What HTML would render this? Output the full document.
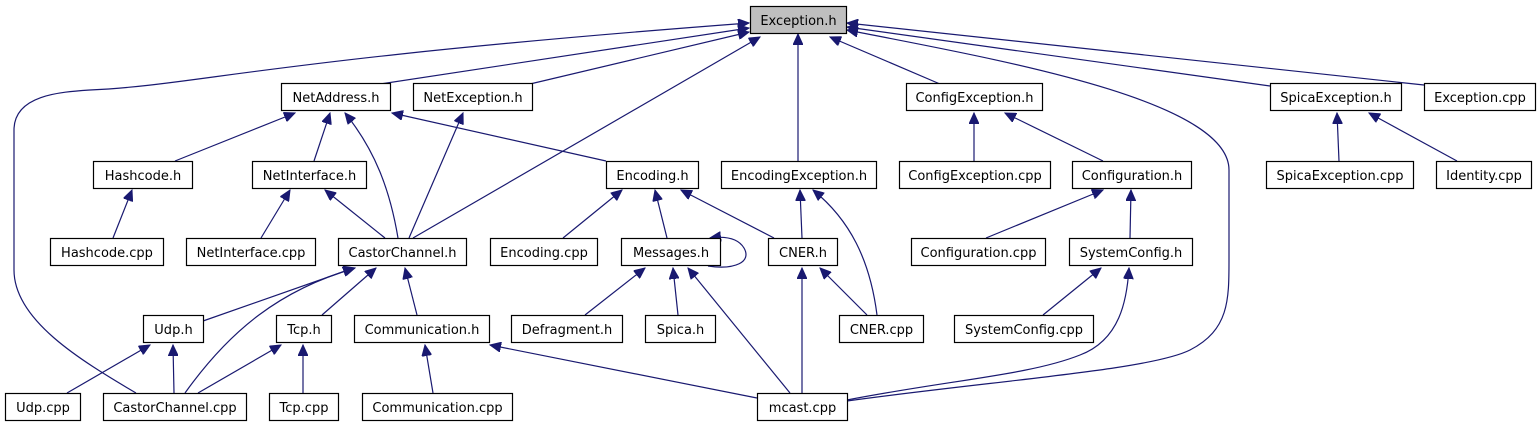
<!DOCTYPE html>
<html><head><meta charset="utf-8"><style>
html,body{margin:0;padding:0;background:#fff;}
svg{display:block;}
text{font-family:"DejaVu Sans","Liberation Sans",sans-serif;font-size:13px;fill:#000;}
rect{fill:#fff;stroke:#000;stroke-width:1.2;}
path{fill:none;stroke:#191970;stroke-width:1.2;}
</style></head><body>
<svg width="1540" height="427" viewBox="0 0 1540 427" xmlns="http://www.w3.org/2000/svg">
<defs>
<marker id="a" markerUnits="userSpaceOnUse" markerWidth="12" markerHeight="10" refX="11" refY="5" orient="auto">
<path d="M0,0 L11,5 L0,10 Z" style="fill:#191970;stroke:#191970;stroke-width:1"/>
</marker>
</defs>
<g marker-end="url(#a)">
<path d="M136,393 C80,360 14,320 14,270 L14,130 C14,95 60,92 90,90 C200,85 260,60 749,23"/>
<path d="M380,84 L749,28"/>
<path d="M530,84 L749,32"/>
<path d="M413,238 L760,37"/>
<path d="M798,161 L798,34"/>
<path d="M940,84 L830,37"/>
<path d="M847,401 C1000,380 1150,370 1190,350 C1229,330 1229,300 1229,260 L1229,170 C1229,100 1000,60 847,30"/>
<path d="M1270,86 L847,27"/>
<path d="M1424,85 L847,23"/>
<path d="M175,161 L295,113"/>
<path d="M314,161 L330,113"/>
<path d="M398,238 C390,190 375,150 345,113"/>
<path d="M606,161 L392,113"/>
<path d="M409,238 L463,113"/>
<path d="M113,238 L132,190"/>
<path d="M261,238 L290,190"/>
<path d="M385,238 L325,190"/>
<path d="M563,238 L622,190"/>
<path d="M667,238 L655,190"/>
<path d="M774,238 L681,190"/>
<path d="M802,238 L800,190"/>
<path d="M877,315 C870,260 850,220 813,190"/>
<path d="M974,161 L974,113"/>
<path d="M1103,161 L1005,113"/>
<path d="M986,238 L1103,190"/>
<path d="M1130,238 L1131,190"/>
<path d="M1339,161 L1337,113"/>
<path d="M1457,161 L1369,113"/>
<path d="M203,321 L354,268"/>
<path d="M185,393 C230,330 280,290 355,268"/>
<path d="M322,315 L376,268"/>
<path d="M417,315 L405,268"/>
<path d="M708,266 C735,270 752,262 744,248 C738,238 725,236 710,238"/>
<path d="M585,315 L645,268"/>
<path d="M678,315 L673,268"/>
<path d="M790,393 L688,268"/>
<path d="M802,393 L802,268"/>
<path d="M867,315 L820,268"/>
<path d="M1043,315 L1101,268"/>
<path d="M847,400 C950,380 1030,375 1080,355 C1120,340 1127,300 1129,268"/>
<path d="M67,393 L150,345"/>
<path d="M174,393 L173,345"/>
<path d="M198,393 L281,345"/>
<path d="M303,393 L303,345"/>
<path d="M433,393 L425,345"/>
<path d="M757,398 L490,345"/>
</g>
<g>
<rect x="750.5" y="6.5" width="96" height="27" style="fill:#bfbfbf"/><text x="798.5" y="25" text-anchor="middle">Exception.h</text>
<rect x="281.5" y="83.5" width="109" height="27"/><text x="336" y="102" text-anchor="middle">NetAddress.h</text>
<rect x="413.5" y="83.5" width="119" height="27"/><text x="473" y="102" text-anchor="middle">NetException.h</text>
<rect x="906.5" y="83.5" width="136" height="27"/><text x="974.5" y="102" text-anchor="middle">ConfigException.h</text>
<rect x="1270.5" y="83.5" width="131" height="27"/><text x="1336" y="102" text-anchor="middle">SpicaException.h</text>
<rect x="1424.5" y="83.5" width="111" height="27"/><text x="1480" y="102" text-anchor="middle">Exception.cpp</text>
<rect x="93.5" y="161.5" width="99" height="27"/><text x="143" y="180" text-anchor="middle">Hashcode.h</text>
<rect x="252.5" y="161.5" width="114" height="27"/><text x="309.5" y="180" text-anchor="middle">NetInterface.h</text>
<rect x="606.5" y="161.5" width="92" height="27"/><text x="652.5" y="180" text-anchor="middle">Encoding.h</text>
<rect x="721.5" y="161.5" width="155" height="27"/><text x="799" y="180" text-anchor="middle">EncodingException.h</text>
<rect x="899.5" y="161.5" width="151" height="27"/><text x="975" y="180" text-anchor="middle">ConfigException.cpp</text>
<rect x="1072.5" y="161.5" width="119" height="27"/><text x="1132" y="180" text-anchor="middle">Configuration.h</text>
<rect x="1266.5" y="161.5" width="147" height="27"/><text x="1340" y="180" text-anchor="middle">SpicaException.cpp</text>
<rect x="1436.5" y="161.5" width="95" height="27"/><text x="1484" y="180" text-anchor="middle">Identity.cpp</text>
<rect x="50.5" y="238.5" width="113" height="27"/><text x="107" y="257" text-anchor="middle">Hashcode.cpp</text>
<rect x="186.5" y="238.5" width="129" height="27"/><text x="251" y="257" text-anchor="middle">NetInterface.cpp</text>
<rect x="338.5" y="238.5" width="128" height="27"/><text x="402.5" y="257" text-anchor="middle">CastorChannel.h</text>
<rect x="490.5" y="238.5" width="107" height="27"/><text x="544" y="257" text-anchor="middle">Encoding.cpp</text>
<rect x="621.5" y="238.5" width="99" height="27"/><text x="671" y="257" text-anchor="middle">Messages.h</text>
<rect x="768.5" y="238.5" width="69" height="27"/><text x="803" y="257" text-anchor="middle">CNER.h</text>
<rect x="911.5" y="238.5" width="134" height="27"/><text x="978.5" y="257" text-anchor="middle">Configuration.cpp</text>
<rect x="1069.5" y="238.5" width="123" height="27"/><text x="1131" y="257" text-anchor="middle">SystemConfig.h</text>
<rect x="143.5" y="315.5" width="60" height="27"/><text x="173.5" y="334" text-anchor="middle">Udp.h</text>
<rect x="276.5" y="315.5" width="55" height="27"/><text x="304" y="334" text-anchor="middle">Tcp.h</text>
<rect x="354.5" y="315.5" width="135" height="27"/><text x="422" y="334" text-anchor="middle">Communication.h</text>
<rect x="511.5" y="315.5" width="111" height="27"/><text x="567" y="334" text-anchor="middle">Defragment.h</text>
<rect x="645.5" y="315.5" width="70" height="27"/><text x="680.5" y="334" text-anchor="middle">Spica.h</text>
<rect x="839.5" y="315.5" width="84" height="27"/><text x="881.5" y="334" text-anchor="middle">CNER.cpp</text>
<rect x="954.5" y="315.5" width="139" height="27"/><text x="1024" y="334" text-anchor="middle">SystemConfig.cpp</text>
<rect x="5.5" y="393.5" width="75" height="27"/><text x="43" y="412" text-anchor="middle">Udp.cpp</text>
<rect x="103.5" y="393.5" width="143" height="27"/><text x="175" y="412" text-anchor="middle">CastorChannel.cpp</text>
<rect x="269.5" y="393.5" width="69" height="27"/><text x="304" y="412" text-anchor="middle">Tcp.cpp</text>
<rect x="362.5" y="393.5" width="150" height="27"/><text x="437.5" y="412" text-anchor="middle">Communication.cpp</text>
<rect x="757.5" y="393.5" width="90" height="27"/><text x="802.5" y="412" text-anchor="middle">mcast.cpp</text>
</g>
</svg>
</body></html>
